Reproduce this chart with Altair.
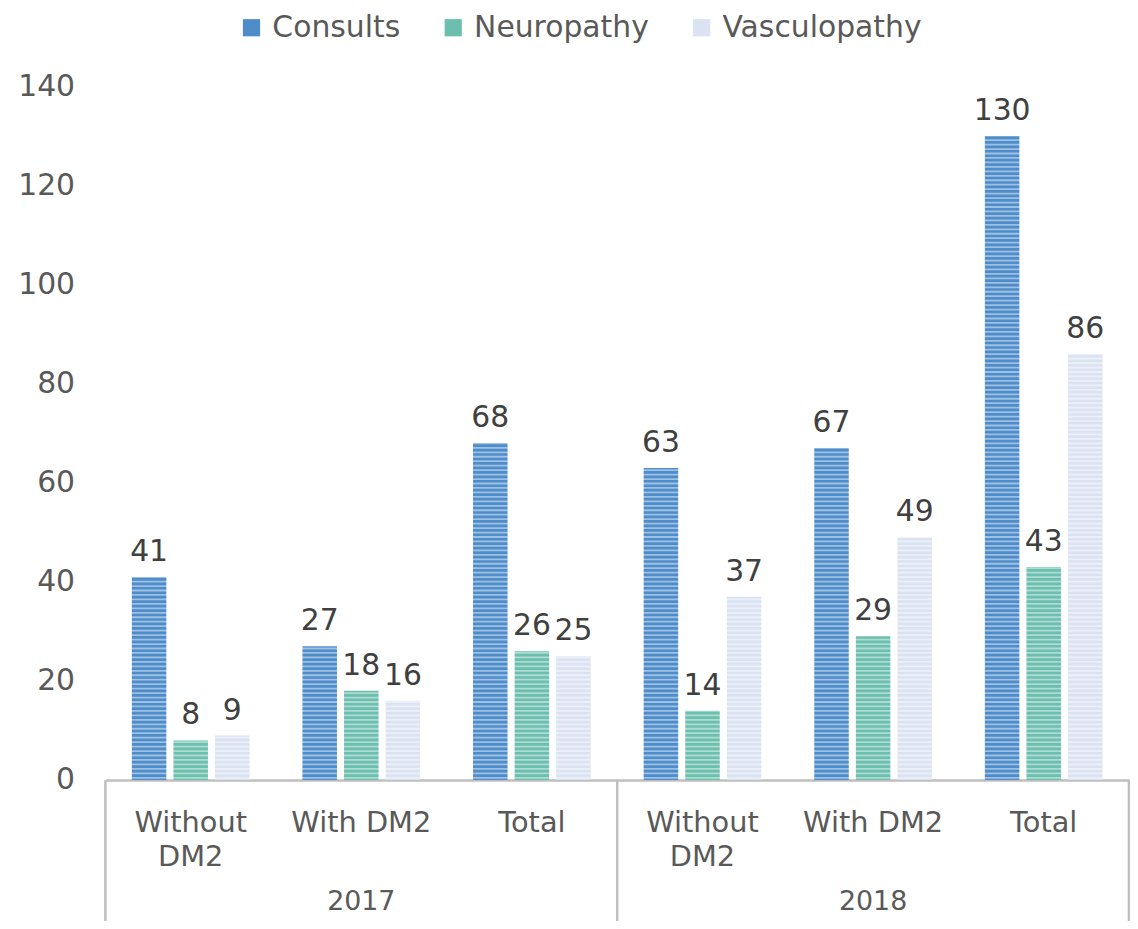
import altair as alt
import pandas as pd

years = ["2017", "2017", "2017", "2018", "2018", "2018"]
groups = ["Without DM2", "With DM2", "Total", "Without DM2", "With DM2", "Total"]
group_labels = ["Without\nDM2", "With DM2", "Total", "Without\nDM2", "With DM2", "Total"]
series = ["Consults", "Neuropathy", "Vasculopathy"]
consults = [41, 27, 68, 63, 67, 130]
neuropathy = [8, 18, 26, 14, 29, 43]
vasculopathy = [9, 16, 25, 37, 49, 86]
colors = ["#4f8dca", "#6cbfae", "#dbe3f3"]
y_ticks = [0, 20, 40, 60, 80, 100, 120, 140]

keys = [f"{y} {g}" for y, g in zip(years, groups)]
rows = []
for i, k in enumerate(keys):
    for s, vals in zip(series, [consults, neuropathy, vasculopathy]):
        rows.append({"key": k, "series": s, "value": vals[i]})
df = pd.DataFrame(rows)
cat_df = pd.DataFrame({"key": keys, "label": group_labels})
year_df = pd.DataFrame({"key": [keys[1], keys[4]], "year": ["2017", "2018"]})

W, H = 1030, 698
FONT = "DejaVu Sans"
GREY = "#595959"

xscale = alt.Scale(domain=keys, paddingInner=0.31, paddingOuter=0.155)
x = alt.X("key:N", scale=xscale, sort=keys,
          axis=alt.Axis(labels=False, ticks=False, title=None, domain=True,
                        domainColor="#bfbfbf", domainWidth=2.5))
y = alt.Y("value:Q", scale=alt.Scale(domain=[0, 140]),
          axis=alt.Axis(values=y_ticks, grid=False, domain=False, ticks=False,
                        labelPadding=31, labelFontSize=30, labelColor=GREY,
                        labelFont=FONT, title=None))
xoff = alt.XOffset("series:N", sort=series,
                   scale=alt.Scale(domain=series, paddingInner=0.17, paddingOuter=0))

bars = alt.Chart(df).mark_bar().encode(
    x=x, y=y, xOffset=xoff,
    color=alt.Color("series:N", sort=series,
                    scale=alt.Scale(domain=series, range=colors),
                    legend=alt.Legend(title=None, orient="none", direction="horizontal",
                                      legendX=132, legendY=-74, labelFontSize=30,
                                      labelFont=FONT, labelColor=GREY, symbolType="square",
                                      symbolSize=300, symbolStrokeWidth=0, labelLimit=0,
                                      columnPadding=38, labelOffset=6)),
)

# horizontal stripe texture on the bars
stripes = alt.Chart(alt.sequence(0.45, 140, 0.9, as_="v")).mark_rule(
    color="white", strokeWidth=1.8, opacity=0.45
).encode(
    y=alt.Y("v:Q", scale=alt.Scale(domain=[0, 140])),
    x=alt.value(0), x2=alt.value(W),
)

labels = alt.Chart(df).mark_text(
    baseline="alphabetic", dy=-16, fontSize=30, font=FONT, color="#404040"
).encode(x=x, y=y, xOffset=xoff, text="value:Q")

cat_text = alt.Chart(cat_df).mark_text(
    baseline="top", fontSize=29, font=FONT, color=GREY, lineBreak="\n", lineHeight=35
).encode(x=alt.X("key:N", scale=xscale, sort=keys), y=alt.value(727), text="label:N")

year_text = alt.Chart(year_df).mark_text(
    baseline="middle", fontSize=27, font=FONT, color=GREY
).encode(x=alt.X("key:N", scale=xscale, sort=keys), y=alt.value(821), text="year:N")

sep_df = pd.DataFrame({"pos": ["left"]})
seps = []
for px in [0, W / 2, W]:
    seps.append(alt.Chart(sep_df).mark_rule(color="#bfbfbf", strokeWidth=2.5).encode(
        x=alt.value(px), y=alt.value(H), y2=alt.value(H + 150)))

chart = alt.layer(bars, stripes, labels, cat_text, year_text, *seps).properties(
    width=W, height=H, background="white",
    autosize=alt.AutoSizeParams(type="none"),
    padding={"left": 98, "top": 76, "right": 1, "bottom": 139},
).configure_view(strokeWidth=0, stroke="transparent")

chart.save("out.html", embed_options={"renderer": "svg", "actions": False})
